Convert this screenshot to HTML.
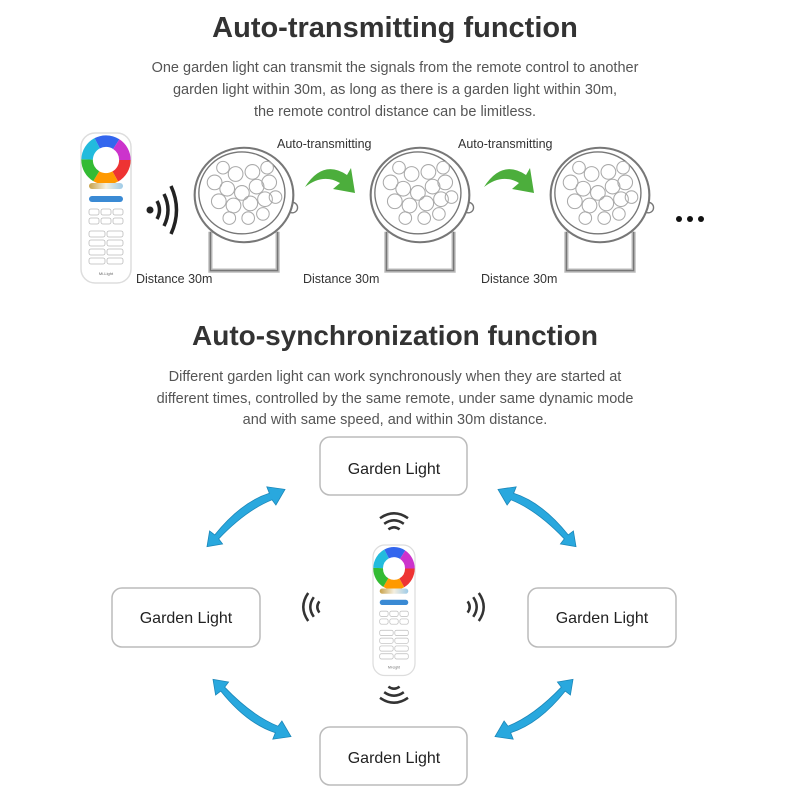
<!DOCTYPE html>
<html><head><meta charset="utf-8"><style>
body{margin:0;background:#fff;width:799px;height:800px;overflow:hidden;font-family:"Liberation Sans",sans-serif}
svg{position:absolute;left:0;top:0}
</style></head><body>
<svg width="799" height="800" viewBox="0 0 799 800" font-family="Liberation Sans, sans-serif">
<defs>
<linearGradient id="rb" x1="0" x2="1"><stop offset="0" stop-color="#c9a24a"/><stop offset="0.5" stop-color="#f4efe0"/><stop offset="1" stop-color="#9ecbe8"/></linearGradient>
<g id="wheel">
<circle r="18" fill="none" stroke="#e33" stroke-width="11" stroke-dasharray="19 100"/>
<circle r="18" fill="none" stroke="#f90" stroke-width="11" stroke-dasharray="0 19 19 100"/>
<circle r="18" fill="none" stroke="#3b3" stroke-width="11" stroke-dasharray="0 38 19 100"/>
<circle r="18" fill="none" stroke="#2bd" stroke-width="11" stroke-dasharray="0 57 19 100"/>
<circle r="18" fill="none" stroke="#36e" stroke-width="11" stroke-dasharray="0 76 19 100"/>
<circle r="18" fill="none" stroke="#c3c" stroke-width="11" stroke-dasharray="0 95 19 100"/>
<circle r="12" fill="#fff"/>
</g>
<g id="remote">
<rect x="0" y="0" width="50" height="150" rx="14" fill="#fff" stroke="#ddd" stroke-width="1.5"/>
<g transform="translate(25,27) scale(1.05)"><use href="#wheel"/></g>
<rect x="8" y="50" width="34" height="6" rx="3" fill="url(#rb)"/>
<rect x="8" y="63" width="34" height="6" rx="3" fill="#3a8ad4"/>
<g fill="none" stroke="#bbb" stroke-width="0.8">
<rect x="8" y="76" width="10" height="6" rx="2"/><rect x="20" y="76" width="10" height="6" rx="2"/><rect x="32" y="76" width="10" height="6" rx="2"/>
<rect x="8" y="85" width="10" height="6" rx="2"/><rect x="20" y="85" width="10" height="6" rx="2"/><rect x="32" y="85" width="10" height="6" rx="2"/>
<rect x="8" y="98" width="16" height="6" rx="2"/><rect x="26" y="98" width="16" height="6" rx="2"/>
<rect x="8" y="107" width="16" height="6" rx="2"/><rect x="26" y="107" width="16" height="6" rx="2"/>
<rect x="8" y="116" width="16" height="6" rx="2"/><rect x="26" y="116" width="16" height="6" rx="2"/>
<rect x="8" y="125" width="16" height="6" rx="2"/><rect x="26" y="125" width="16" height="6" rx="2"/>
</g>
<text x="25" y="142" font-size="4" text-anchor="middle" fill="#666">Mi-Light</text>
</g>
<g id="lamp" fill="none" stroke="#777" stroke-width="1.3">
<path d="M-32 35 L-32 72 L32 72 L32 35" stroke-width="4" stroke="#bbb"/>
<path d="M-32 35 L-32 72 L32 72 L32 35"/>
<circle cx="46" cy="12" r="5"/>
<ellipse cx="0" cy="0" rx="47" ry="45" fill="#fff" stroke-width="2"/>
<ellipse cx="-2" cy="-2" rx="41" ry="39" fill="#fff"/>
<g stroke="#aaa" stroke-width="1">
<circle cx="-2" cy="-2" r="7"/><circle cx="-16" cy="-6" r="7"/><circle cx="12" cy="-8" r="7"/><circle cx="-8" cy="-20" r="7"/><circle cx="8" cy="-22" r="7"/>
<circle cx="24" cy="-12" r="7"/><circle cx="-28" cy="-12" r="7"/><circle cx="-24" cy="6" r="7"/><circle cx="-10" cy="10" r="7"/><circle cx="6" cy="8" r="7"/>
<circle cx="20" cy="4" r="7"/><circle cx="30" cy="2" r="6"/><circle cx="-20" cy="-26" r="6"/><circle cx="22" cy="-26" r="6"/><circle cx="-14" cy="22" r="6"/><circle cx="4" cy="22" r="6"/><circle cx="18" cy="18" r="6"/>
</g>
</g>
<path id="garrow" d="M0 22 Q18 -6 42 10 L46 3 L50 28 L28 24 L35 18 Q18 8 0 22 Z" fill="#4cae3c"/>
<g id="barrow" fill="#29a8de" stroke="#1b86b8" stroke-width="0.6">
<path d="M-28 10 L-30 22 L-18 20 L-21 16 Q0 -6 20 -14 L23 -10 L30 -22 L16 -24 L18 -19 Q-4 -12 -24 13 Z"/>
</g>
<g id="wave" fill="none" stroke="#333" stroke-width="1.8">
<path d="M-7 -3 Q0 -8 7 -3"/><path d="M-10 -7 Q0 -14 10 -7"/><path d="M-4 1 Q0 -2 4 1"/>
</g>
</defs>

<text x="395" y="37" font-size="29" font-weight="bold" text-anchor="middle" fill="#333">Auto-transmitting function</text>
<g font-size="14.5" fill="#555" text-anchor="middle">
<text x="395" y="72">One garden light can transmit the signals from the remote control to another</text>
<text x="395" y="94">garden light within 30m, as long as there is a garden light within 30m,</text>
<text x="395" y="116">the remote control distance can be limitless.</text>
</g>

<use href="#remote" x="81" y="133"/>
<circle cx="150" cy="210" r="3.5" fill="#222"/>
<g fill="none" stroke="#222" stroke-width="3.5"><path d="M157 201 Q162 210 157 219"/><path d="M164 194 Q172 210 164 226"/><path d="M171 186 Q182 210 171 234"/></g>

<use href="#lamp" transform="translate(244,195) scale(1.05)"/>
<use href="#lamp" transform="translate(420,195) scale(1.05)"/>
<use href="#lamp" transform="translate(600,195) scale(1.05)"/>

<use href="#garrow" transform="translate(305,165)"/>
<use href="#garrow" transform="translate(484,165)"/>

<g font-size="12.5" fill="#333">
<text x="277" y="148">Auto-transmitting</text>
<text x="458" y="148">Auto-transmitting</text>
<text x="136" y="283">Distance 30m</text>
<text x="303" y="283">Distance 30m</text>
<text x="481" y="283">Distance 30m</text>
</g>
<g fill="#111"><circle cx="679" cy="219" r="3"/><circle cx="690" cy="219" r="3"/><circle cx="701" cy="219" r="3"/></g>

<text x="395" y="345" font-size="28" font-weight="bold" text-anchor="middle" fill="#333">Auto-synchronization function</text>
<g font-size="14.5" fill="#555" text-anchor="middle">
<text x="395" y="381">Different garden light can work synchronously when they are started at</text>
<text x="395" y="403">different times, controlled by the same remote, under same dynamic mode</text>
<text x="395" y="424">and with same speed, and within 30m distance.</text>
</g>

<g fill="#fff" stroke="#bbb" stroke-width="1.5">
<rect x="320" y="437" width="147" height="58" rx="10"/>
<rect x="112" y="588" width="148" height="59" rx="10"/>
<rect x="528" y="588" width="148" height="59" rx="10"/>
<rect x="320" y="727" width="147" height="58" rx="10"/>
</g>
<g font-size="16" fill="#222" text-anchor="middle">
<text x="394" y="474">Garden Light</text>
<text x="186" y="623">Garden Light</text>
<text x="602" y="623">Garden Light</text>
<text x="394" y="763">Garden Light</text>
</g>

<g transform="translate(373,545) scale(0.84,0.87)"><use href="#remote"/></g>

<use href="#wave" transform="translate(394,528) scale(1.4)"/>
<use href="#wave" transform="translate(394,688) rotate(180) scale(1.4)"/>
<use href="#wave" transform="translate(318,607) rotate(-90) scale(1.4)"/>
<use href="#wave" transform="translate(469,607) rotate(90) scale(1.4)"/>

<use href="#barrow" transform="translate(246,518) scale(1.3)"/>
<use href="#barrow" transform="translate(537,518) scale(-1.3,1.3)"/>
<use href="#barrow" transform="translate(252,708) scale(1.3,-1.3)"/>
<use href="#barrow" transform="translate(534,708) scale(-1.3,-1.3)"/>
</svg>
</body></html>
